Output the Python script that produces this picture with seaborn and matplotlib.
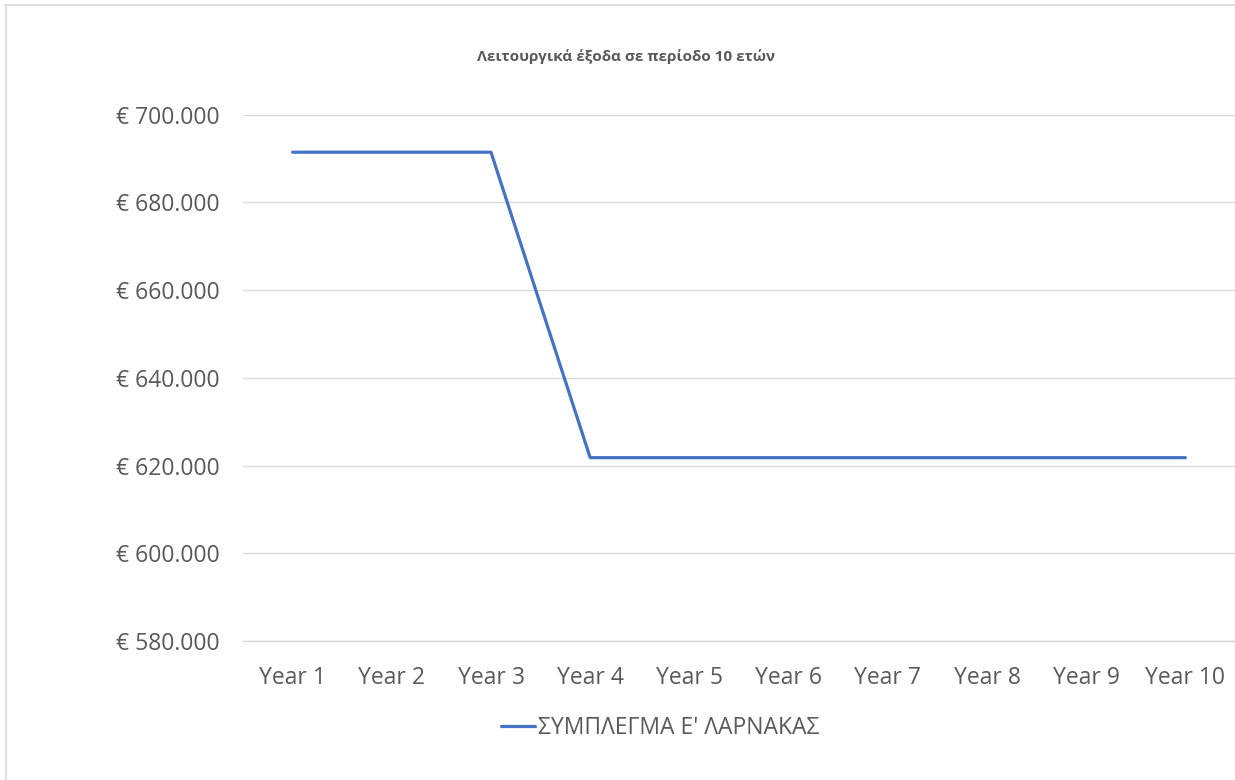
import matplotlib
matplotlib.use("Agg")
import matplotlib.pyplot as plt
import matplotlib.ticker as mticker
from matplotlib.lines import Line2D
import seaborn as sns
import pandas as pd

years = ["Year 1", "Year 2", "Year 3", "Year 4", "Year 5", "Year 6", "Year 7", "Year 8", "Year 9", "Year 10"]
values = [691450, 691450, 691450, 621800, 621800, 621800, 621800, 621800, 621800, 621800]
series_name = "ΣΥΜΠΛΕΓΜΑ Ε' ΛΑΡΝΑΚΑΣ"
title = "Λειτουργικά έξοδα σε περίοδο 10 ετών"

sns.set_theme(style="white")
plt.rcParams['font.family'] = ['Open Sans', 'DejaVu Sans']

df = pd.DataFrame({"year": years, "value": values, "series": series_name})

fig = plt.figure(figsize=(12.35, 7.8), dpi=100)
ax = fig.add_axes([243/1235, 1-641/780, (1235-243)/1235, (641-114.7)/780])

sns.lineplot(data=df, x="year", y="value", hue="series", palette=["#4472C4"],
             linewidth=2.3, ax=ax, sort=False, legend=False)

ax.set_xlim(-0.5, 9.5)
ax.set_ylim(580000, 700000)
ax.yaxis.set_major_locator(mticker.MultipleLocator(20000))
ax.yaxis.set_major_formatter(mticker.FuncFormatter(lambda v, p: "€ " + f"{int(v):,}".replace(",", ".")))
ax.grid(axis="y", color="#D9D9D9", linewidth=1.0)
ax.set_axisbelow(True)
for s in ["top", "right", "left"]:
    ax.spines[s].set_visible(False)
ax.spines["bottom"].set_color("#D9D9D9")
ax.spines["bottom"].set_linewidth(1.0)
ax.tick_params(axis="both", length=0, labelsize=16.5, colors="#595959")
ax.tick_params(axis="y", pad=17)
ax.tick_params(axis="x", pad=18)
ax.set_xlabel("")
ax.set_ylabel("")

fig.text(626/1235, 1-57/780, title, ha="center", va="center", fontsize=11,
         fontweight="bold", color="#595959")

handle = Line2D([0], [0], color="#4472C4", linewidth=2.3)
fig.legend([handle], [series_name], loc="center", bbox_to_anchor=(660/1235, 1-728/780),
           frameon=False, fontsize=16.5, labelcolor="#595959", handlelength=1.5,
           handletextpad=0.1)

# partial chart-area border (top and left edges visible)
fig.add_artist(Line2D([5/1235, 1], [1-4.5/780, 1-4.5/780], transform=fig.transFigure,
                      color="#D9D9D9", linewidth=1.2))
fig.add_artist(Line2D([5.5/1235, 5.5/1235], [0, 1-4.5/780], transform=fig.transFigure,
                      color="#D9D9D9", linewidth=1.2))

fig.savefig("out.png", dpi=100)
